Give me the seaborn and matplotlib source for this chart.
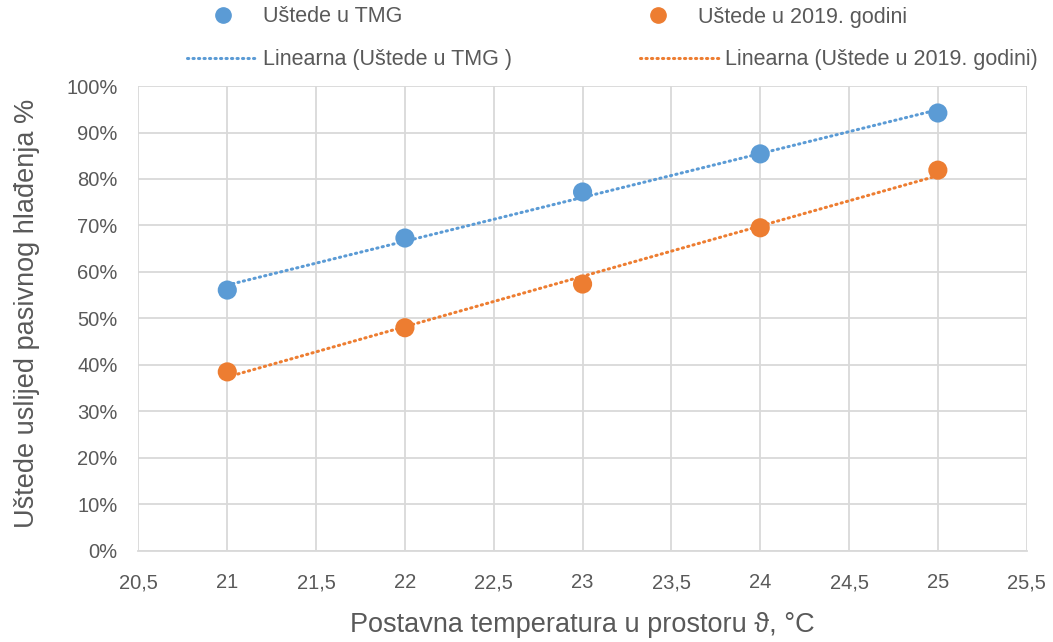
import numpy as np
import pandas as pd
import seaborn as sns
import matplotlib.pyplot as plt
from matplotlib.lines import Line2D
from matplotlib.ticker import FuncFormatter, MultipleLocator

# Set-point temperatures and savings from passive cooling
temperature = [21, 22, 23, 24, 25]
savings_tmg = [0.561, 0.673, 0.772, 0.854, 0.942]
savings_2019 = [0.385, 0.480, 0.574, 0.695, 0.819]

label_tmg = "Uštede u TMG"
label_2019 = "Uštede u 2019. godini"
trend_tmg = "Linearna (Uštede u TMG )"
trend_2019 = "Linearna (Uštede u 2019. godini)"

blue = "#5B9BD5"
orange = "#ED7D31"
text_color = "#595959"
dotted = (0, (0.4, 1.4))

sns.set_theme(style="whitegrid")
plt.rcParams["font.family"] = ["Liberation Sans", "DejaVu Sans"]

df = pd.DataFrame({
    "t": temperature * 2,
    "s": savings_tmg + savings_2019,
    "serija": [label_tmg] * 5 + [label_2019] * 5,
})

W, H = 1053, 642
fig = plt.figure(figsize=(W / 100, H / 100), dpi=100)
ax = fig.add_axes([0.1315, 0.142, 0.8435, 0.724])

# Linear trend lines
sns.regplot(x=temperature, y=savings_tmg, ax=ax, scatter=False, ci=None, truncate=True,
            line_kws=dict(color=blue, lw=2.2, ls=dotted, dash_capstyle="round", zorder=2))
sns.regplot(x=temperature, y=savings_2019, ax=ax, scatter=False, ci=None, truncate=True,
            line_kws=dict(color=orange, lw=2.2, ls=dotted, dash_capstyle="round", zorder=2))

sns.scatterplot(data=df, x="t", y="s", hue="serija", palette=[blue, orange], s=190,
                linewidth=0, ax=ax, legend=False, zorder=3)

ax.set_xlim(20.5, 25.5)
ax.set_ylim(0, 1.0)
ax.xaxis.set_major_locator(MultipleLocator(0.5))
ax.yaxis.set_major_locator(MultipleLocator(0.1))
ax.xaxis.set_major_formatter(FuncFormatter(lambda v, p: f"{v:g}".replace(".", ",")))
ax.yaxis.set_major_formatter(FuncFormatter(lambda v, p: f"{v*100:.0f}%"))

ax.grid(True, color="#d9d9d9", lw=1.3)
for side in ["top", "right", "left"]:
    ax.spines[side].set_visible(False)
ax.spines["bottom"].set_color("#d9d9d9")
ax.spines["bottom"].set_linewidth(1.3)

ax.tick_params(axis="both", length=0, labelsize=14.5, colors=text_color)
ax.tick_params(axis="y", pad=15)
ax.tick_params(axis="x", pad=16)
ax.set_xlabel("Postavna temperatura u prostoru ϑ, °C", fontsize=19.5, color=text_color, labelpad=14)
ax.set_ylabel("Uštede uslijed pasivnog hlađenja %", fontsize=19.5, color=text_color, labelpad=20)
ax.yaxis.set_label_coords(-0.1315 + 22 / W, 0.51, transform=ax.transAxes)
ax.yaxis.label.set_horizontalalignment("center")

# Legend entries, placed in a two-by-two grid above the plot area
fs = 15.5
px_per_unit = fs * 100 / 72
entries = [
    (Line2D([], [], ls="none", marker="o", ms=11, color=blue, mec=blue), label_tmg, 187, 17, 71),
    (Line2D([], [], color=blue, lw=2.2, ls=dotted, dash_capstyle="round"), trend_tmg, 187, 60, 71),
    (Line2D([], [], ls="none", marker="o", ms=11, color=orange, mec=orange), label_2019, 622, 17, 71),
    (Line2D([], [], color=orange, lw=2.2, ls=dotted, dash_capstyle="round"), trend_2019, 640, 60, 80),
]
for handle, text, x0, y0, hl in entries:
    fig.legend([handle], [text], loc="center left",
               bbox_to_anchor=(x0 / W, 1 - y0 / H), frameon=False, fontsize=fs,
               handlelength=hl / px_per_unit, handletextpad=0.25, borderpad=0,
               borderaxespad=0, labelcolor=text_color)

fig.savefig("out.png", dpi=100)
